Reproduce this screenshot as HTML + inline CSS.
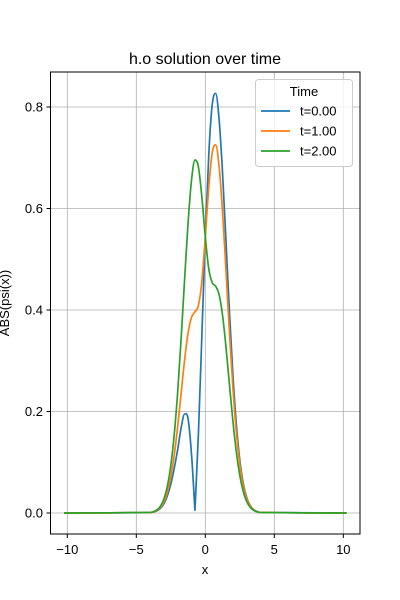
<!DOCTYPE html>
<html><head><meta charset="utf-8"><style>
body{margin:0;background:#fff}
svg{display:block;font-family:"Liberation Sans","DejaVu Sans",sans-serif}
</style></head><body>
<svg id="chart" width="400" height="600" xmlns="http://www.w3.org/2000/svg">
<rect width="400" height="600" fill="#fff"/>
<text x="205" y="64" font-size="16" text-anchor="middle">h.o solution over time</text>
<g id="grid"></g>
<g id="series"></g>
<rect x="50.5" y="72" width="309.5" height="462" fill="none" stroke="#000" stroke-width="1"/>
<g id="ticks" font-size="13"></g>
<text x="205" y="574" font-size="13" text-anchor="middle">x</text>
<text transform="translate(9,303) rotate(-90)" font-size="13" text-anchor="middle">ABS(psi(x))</text>
<g>
<rect x="255.5" y="79.5" width="97" height="87" rx="3" fill="#fff" fill-opacity="0.8" stroke="#ccc"/>
<text x="304" y="96" font-size="13" text-anchor="middle">Time</text>
<g id="legend-entries"></g>
</g>
</svg>
<script>
const xs=[-10.24,-4,-3.75,-3.5,-3.25,-3,-2.75,-2.5,-2.25,-2,-1.75,-1.5,-1.25,-1,-0.75,-0.5,-0.25,0,0.25,0.5,0.75,1,1.25,1.5,1.75,2,2.25,2.5,2.75,3,3.25,3.5,3.75,4,10.24];
const blue=[0,0.0008,0.0019,0.0044,0.0094,0.0184,0.0337,0.0568,0.0883,0.1253,0.168,0.195,0.186,0.1158,0.0055,0.1558,0.3492,0.544,0.7053,0.8044,0.8267,0.7757,0.6697,0.5346,0.3959,0.2725,0.1749,0.1045,0.0585,0.0305,0.0149,0.0068,0.0029,0.0012,0];
const orange=[0,0.0009,0.0022,0.0051,0.0109,0.0218,0.0407,0.0707,0.1142,0.1707,0.2363,0.3017,0.3545,0.3855,0.3964,0.409,0.4563,0.544,0.6412,0.7098,0.7255,0.683,0.5934,0.4771,0.3558,0.2466,0.1592,0.0957,0.0538,0.0282,0.0139,0.0064,0.0027,0.0011,0];
const green=[0,0.0011,0.0027,0.0062,0.0135,0.0275,0.0525,0.0932,0.1547,0.239,0.3442,0.4603,0.571,0.6556,0.6956,0.682,0.6227,0.544,0.4812,0.4539,0.4468,0.4303,0.3896,0.3267,0.253,0.1811,0.1202,0.074,0.0424,0.0226,0.0113,0.0053,0.0023,0.0009,0];
const seriesLabels=["t=0.00","t=1.00","t=2.00"];
const xTicks=[-10,-5,0,5,10];
const xTickLabels=["\u221210","\u22125","0","5","10"];
const yTicks=[0,0.2,0.4,0.6,0.8];
const yTickLabels=["0.0","0.2","0.4","0.6","0.8"];

const NS="http://www.w3.org/2000/svg";
const X=v=>205.3+v*13.8;
const Y=v=>513-v*507.5;
function mk(tag,attrs,parent){const e=document.createElementNS(NS,tag);for(const k in attrs)e.setAttribute(k,attrs[k]);parent.appendChild(e);return e;}
function smoothPath(s){
  const px=xs.map(X),py=s.map(Y),n=px.length;
  const sl=[];for(let i=0;i<n-1;i++)sl.push((py[i+1]-py[i])/(px[i+1]-px[i]));
  const tl=[],tr=[];
  for(let i=0;i<n;i++){
    if(i===0){tl.push(sl[0]);tr.push(sl[0]);continue;}
    if(i===n-1){tl.push(sl[n-2]);tr.push(sl[n-2]);continue;}
    const a=sl[i-1],b=sl[i];
    const sharp=(a>0&&b<0&&Math.abs(a)>3&&Math.abs(b)>3);
    if(sharp){tl.push(a);tr.push(b);}
    else if(a*b<=0){tl.push(0);tr.push(0);}
    else{const m=(py[i+1]-py[i-1])/(px[i+1]-px[i-1]);tl.push(m);tr.push(m);}
  }
  let d='M'+px[0].toFixed(2)+','+py[0].toFixed(2);
  for(let i=0;i<n-1;i++){
    const h=(px[i+1]-px[i])/3;
    d+='C'+(px[i]+h).toFixed(2)+','+(py[i]+tr[i]*h).toFixed(2)+' '+(px[i+1]-h).toFixed(2)+','+(py[i+1]-tl[i+1]*h).toFixed(2)+' '+px[i+1].toFixed(2)+','+py[i+1].toFixed(2);
  }
  return d;
}
const grid=document.getElementById('grid'),ticks=document.getElementById('ticks'),ser=document.getElementById('series'),leg=document.getElementById('legend-entries');
xTicks.forEach((t,i)=>{
  const g=mk('line',{x1:X(t),x2:X(t),y1:72,y2:534,stroke:'#b0b0b0','stroke-width':0.8},grid);
  
  
  const tk=mk('line',{x1:X(t),x2:X(t),y1:534,y2:538,stroke:'#000'},ticks);
  
  
  const tx=mk('text',{x:X(t),y:554,'text-anchor':'middle'},ticks);
  tx.textContent=xTickLabels[i];
  
  
});
yTicks.forEach((t,i)=>{
  const g=mk('line',{x1:50.5,x2:360,y1:Y(t),y2:Y(t),stroke:'#b0b0b0','stroke-width':0.8},grid);
  
  
  const tk=mk('line',{x1:46.5,x2:50.5,y1:Y(t),y2:Y(t),stroke:'#000'},ticks);
  
  
  const tx=mk('text',{x:43,y:Y(t)+4.5,'text-anchor':'end'},ticks);
  tx.textContent=yTickLabels[i];
  
  
});
const allSeries=[blue,orange,green];
const colors=['#1f77b4','#ff7f0e','#2ca02c'];
allSeries.forEach((s,k)=>{
  const p=mk('path',{d:smoothPath(s),fill:'none',stroke:colors[k],'stroke-width':1.7,'stroke-linejoin':'round'},ser);
  
  
  const ly=111+k*20;
  const ll=mk('line',{x1:261,x2:290,y1:ly,y2:ly,stroke:colors[k],'stroke-width':1.7},leg);
  
  
  const lt=mk('text',{x:300,y:ly+4.5,'font-size':13},leg);
  lt.textContent=seriesLabels[k];
  
  
});
</script>
</body></html>
